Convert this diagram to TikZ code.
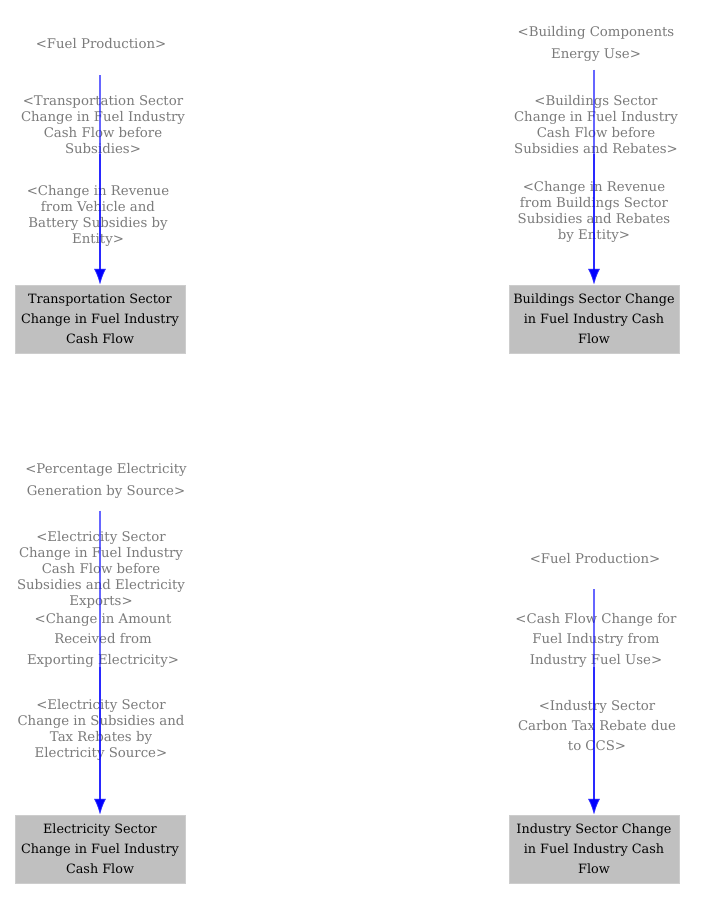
\documentclass[tikz,border=0pt]{standalone}
\usepackage{fontspec}
\setmainfont{DejaVu Serif}
\usetikzlibrary{arrows.meta}
\definecolor{boxgray}{HTML}{C0C0C0}
\definecolor{labelgray}{HTML}{7A7A7A}
\tikzset{
	shadowvar/.style={text=labelgray, align=center, font=\fontsize{13.3}{16}\selectfont, inner sep=0pt},
	widevar/.style={shadowvar, font=\fontsize{13.3}{22}\selectfont},
	cashbox/.style={fill=boxgray, draw=boxgray!80!white, minimum width=170pt, minimum height=68pt, align=center, inner sep=0pt, font=\fontsize{12.8}{20}\selectfont},
	flow/.style={draw=blue, draw opacity=0.6, line width=2pt, -{Latex[length=16pt,width=12pt,fill=blue]}}
}
\begin{document}
\begin{tikzpicture}[x=1pt,y=-1pt]
	\useasboundingbox (0,0) rectangle (709,906);
	% Transportation
	\node[shadowvar] (tfuel) at (101,44) {<Fuel Production>};
	\node[shadowvar] (tbefore) at (103,125) {<Transportation Sector\\Change in Fuel Industry\\Cash Flow before\\Subsidies>};
	\node[shadowvar] (tsubs) at (98,216) {<Change in Revenue\\from Vehicle and\\Battery Subsidies by\\Entity>};
	\node[cashbox] (tbox) at (100,319) {Transportation Sector\\Change in Fuel Industry\\Cash Flow};
	% Buildings
	\node[widevar] (bcomp) at (596,44) {<Building Components\\Energy Use>};
	\node[shadowvar] (bbefore) at (596,125) {<Buildings Sector\\Change in Fuel Industry\\Cash Flow before\\Subsidies and Rebates>};
	\node[shadowvar] (bsubs) at (594,212) {<Change in Revenue\\from Buildings Sector\\Subsidies and Rebates\\by Entity>};
	\node[cashbox] (bbox) at (594,319) {Buildings Sector Change\\in Fuel Industry Cash\\Flow};
	% Electricity
	\node[widevar] (epct) at (106,481) {<Percentage Electricity\\Generation by Source>};
	\node[shadowvar] (ebefore) at (101,570) {<Electricity Sector\\Change in Fuel Industry\\Cash Flow before\\Subsidies and Electricity\\Exports>};
	\node[shadowvar, font=\fontsize{13.3}{20.5}\selectfont] (eexport) at (103,640) {<Change in Amount\\Received from\\Exporting Electricity>};
	\node[shadowvar] (esubs) at (101,730) {<Electricity Sector\\Change in Subsidies and\\Tax Rebates by\\Electricity Source>};
	\node[cashbox] (ebox) at (100,849) {Electricity Sector\\Change in Fuel Industry\\Cash Flow};
	% Industry
	\node[shadowvar] (ifuel) at (595,559) {<Fuel Production>};
	\node[shadowvar, font=\fontsize{13.3}{20.5}\selectfont] (icash) at (596,640) {<Cash Flow Change for\\Fuel Industry from\\Industry Fuel Use>};
	\node[shadowvar, font=\fontsize{13.3}{20}\selectfont] (iccs) at (597,726) {<Industry Sector\\Carbon Tax Rebate due\\to CCS>};
	\node[cashbox] (ibox) at (594,849) {Industry Sector Change\\in Fuel Industry Cash\\Flow};
	% links
	\draw[flow, shorten <=26pt] (tbox.north |- tfuel.south) -- (tbox.north);
	\draw[flow] (tbox.north |- tbefore.south) -- (tbox.north);
	\draw[flow, shorten <=8pt] (bbox.north |- bcomp.south) -- (bbox.north);
	\draw[flow] (bbox.north |- bbefore.south) -- (bbox.north);
	\draw[flow, shorten <=12pt] (ebox.north |- epct.south) -- (ebox.north);
	\draw[flow] (ebox.north |- eexport.south) -- (ebox.north);
	\draw[flow, shorten <=25pt] (ibox.north |- ifuel.south) -- (ibox.north);
	\draw[flow] (ibox.north |- icash.south) -- (ibox.north);
\end{tikzpicture}
\end{document}
